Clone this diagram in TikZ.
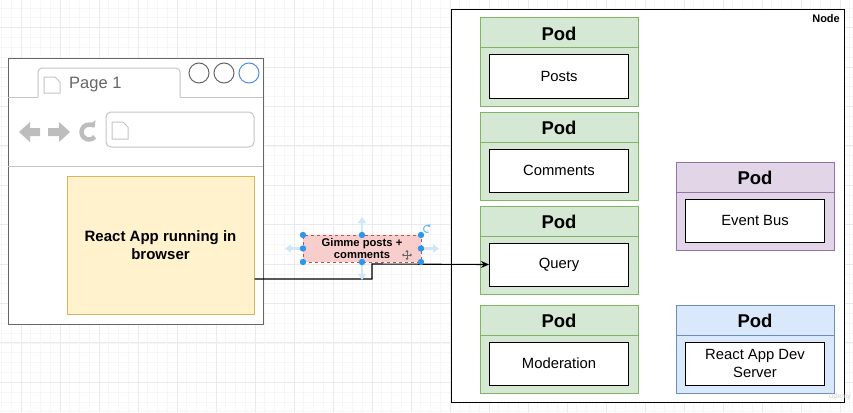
\documentclass[tikz,border=0pt]{standalone}
\usepackage{fontspec}
\setmainfont{Liberation Sans}
\usetikzlibrary{arrows.meta,calc}
\definecolor{gridminor}{HTML}{F6F6F6}
\definecolor{gridmajor}{HTML}{EAEAEA}
\definecolor{winline}{HTML}{666666}
\definecolor{tabline}{HTML}{C4C4C4}
\definecolor{iconcol}{HTML}{BDBDBD}
\definecolor{winblue}{HTML}{4A90E2}
\definecolor{yfill}{HTML}{FFF2CC}
\definecolor{ydraw}{HTML}{D6B656}
\definecolor{rfill}{HTML}{F8CECC}
\definecolor{rdraw}{HTML}{B85450}
\definecolor{gfill}{HTML}{D5E8D4}
\definecolor{gdraw}{HTML}{82B366}
\definecolor{pfill}{HTML}{E1D5E7}
\definecolor{pdraw}{HTML}{9673A6}
\definecolor{bfill}{HTML}{DAE8FC}
\definecolor{bdraw}{HTML}{6C8EBF}
\definecolor{handle}{HTML}{2A96EE}
\definecolor{hoverarrow}{HTML}{CFE6F8}
\tikzset{
  podbox/.style={draw, line width=1pt, minimum width=158, minimum height=88, inner sep=0},
  podtitle/.style={font=\bfseries\fontsize{18.5}{21}\selectfont},
  innerbox/.style={draw=black, fill=white, line width=1pt, minimum width=139, minimum height=43, inner sep=0, align=center, font=\fontsize{14.8}{17.5}\selectfont},
  iconline/.style={draw=tabline, line width=1pt, fill=white},
}
\newcommand\mypod[6]{%
  \node[podbox, fill=#4, draw=#5] (#1) at (#2+79,#3+44) {};
  \draw[#5, line width=1pt] (#2,#3+30) -- (#2+158,#3+30);
  \node[podtitle] (#1t) at (#2+79,#3+15.5) {Pod};
  \node[innerbox] (#1in) at (#2+79,#3+58.5) {#6};
}
\newcommand\pageicon[4]{%
  \draw[iconline] (#1,#2) -- (#1+#3-5,#2) -- (#1+#3,#2+5) -- (#1+#3,#2+#4) -- (#1,#2+#4) -- cycle;
}
\begin{document}
\begin{tikzpicture}[x=1pt,y=-1pt]
\useasboundingbox (0,0) rectangle (853,412);
\fill[white] (0,0) rectangle (853,412);
% grid
\foreach \i in {-2,...,88} \draw[gridminor, line width=0.6pt] ({21+\i*9.75},0) -- ({21+\i*9.75},412);
\foreach \i in {-1,...,44} \draw[gridminor, line width=0.6pt] (0,{67+(\i-6)*9.85}) -- (853,{67+(\i-6)*9.85});
\foreach \i in {0,...,22} \draw[gridmajor, line width=0.8pt] ({21+\i*39},0) -- ({21+\i*39},412);
\foreach \i in {-1,...,10} \draw[gridmajor, line width=0.8pt] (0,{67+(\i-1)*39.4}) -- (853,{67+(\i-1)*39.4});

% browser window
\node[draw=winline, fill=white, line width=1.2pt, minimum width=255, minimum height=266, inner sep=0, anchor=north west] (browser) at (8,58) {};
\draw[tabline, line width=1pt] (8,97) -- (38,97);
\draw[tabline, line width=1pt] (180,97) -- (263,97);
\draw[tabline, line width=1pt, fill=white, rounded corners=4] (38,97) -- (38,68) -- (180,68) -- (180,97);
\pageicon{44}{77}{16}{16}
\node[text=winline, font=\fontsize{16.5}{19}\selectfont, anchor=west, inner sep=0] (tabtext) at (69,84.5) {Page 1};
\draw[winline, line width=1pt] (199,73) circle[radius=10];
\draw[winline, line width=1pt] (224,73) circle[radius=10];
\draw[winblue, line width=1pt] (249,73) circle[radius=10];
% nav icons
\fill[iconcol] (19,132) -- (30,122) -- (30,128) -- (40,128) -- (40,136) -- (30,136) -- (30,142) -- cycle;
\fill[iconcol] (70,132) -- (59,122) -- (59,128) -- (48,128) -- (48,136) -- (59,136) -- (59,142) -- cycle;
\draw[iconcol, line width=4.5pt, -{Triangle[length=5pt,width=10pt]}] ($(89,132)+(40:7.5)$) arc[start angle=40, end angle=320, radius=7.5];
\draw[tabline, line width=1pt, rounded corners=5] (106,112) rectangle (254,147);
\pageicon{112}{122}{16}{17}
\draw[tabline, line width=1pt] (8,166) -- (263,166);
% react app
\node[draw=ydraw, fill=yfill, line width=1pt, minimum width=187, minimum height=138, inner sep=0, align=center, font=\bfseries\fontsize{15}{18}\selectfont] (react) at (160.5,245) {React App running in\\browser};

% kubernetes node
\node[draw=black, fill=white, line width=1.2pt, minimum width=393, minimum height=393, inner sep=0, anchor=north west] (knode) at (451,9) {};
\node[font=\bfseries\fontsize{11}{13}\selectfont, anchor=north east, inner sep=0] (knodelabel) at (840,14) {Node};

\mypod{posts}{480}{18}{gfill}{gdraw}{Posts}
\mypod{comments}{480}{112}{gfill}{gdraw}{Comments}
\mypod{query}{480}{206}{gfill}{gdraw}{Query}
\mypod{moderation}{480}{305}{gfill}{gdraw}{Moderation}
\mypod{eventbus}{676}{162}{pfill}{pdraw}{Event Bus}
\mypod{devserver}{676}{305}{bfill}{bdraw}{React App Dev\\Server}

% connector
\coordinate (e1) at (react.east |- {(0,279)});
\coordinate (bend) at (372,264);
\draw[black, line width=1.1pt, -{Stealth[length=8pt,width=7pt]}] (e1) -| (bend) -- (queryin.west);

% label (selected)
\node[draw=rdraw, fill=rfill, dashed, line width=0.6pt, minimum width=118, minimum height=27, inner sep=0, align=center, font=\bfseries\fontsize{11.2}{12.8}\selectfont] (lbl) at (362,248.5) {Gimme posts +\\comments};
% hover arrows
\draw[hoverarrow, line width=2.2pt, -{Triangle[length=6pt,width=8pt]}] (362,233) -- (362,217);
\draw[hoverarrow, line width=2.2pt, -{Triangle[length=6pt,width=8pt]}] (362,264) -- (362,280);
\draw[hoverarrow, line width=2.2pt, -{Triangle[length=6pt,width=8pt]}] (301,248.5) -- (285,248.5);
\draw[hoverarrow, line width=2.2pt, -{Triangle[length=6pt,width=8pt]}] (423,248.5) -- (439,248.5);
% handles
\foreach \p in {(303,235),(362,235),(421,235),(303,248.5),(421,248.5),(303,262),(362,262),(421,262)}
  \fill[handle] \p circle[radius=3.2];
\draw[handle!70, line width=1pt, -{Triangle[length=2.5pt,width=3.5pt]}] ($(427,229)+(60:3.5)$) arc[start angle=60, end angle=330, radius=3.5];
% move cursor
\draw[black!60, line width=0.8pt, {Triangle[length=2pt,width=3pt]}-{Triangle[length=2pt,width=3pt]}] (402,255) -- (412,255);
\draw[black!60, line width=0.8pt, {Triangle[length=2pt,width=3pt]}-{Triangle[length=2pt,width=3pt]}] (407,250) -- (407,260);
% watermark
\node[text=black!18, font=\fontsize{7}{8}\selectfont, anchor=east, inner sep=0] (wm) at (851,397) {Udemy};
\end{tikzpicture}
\end{document}
